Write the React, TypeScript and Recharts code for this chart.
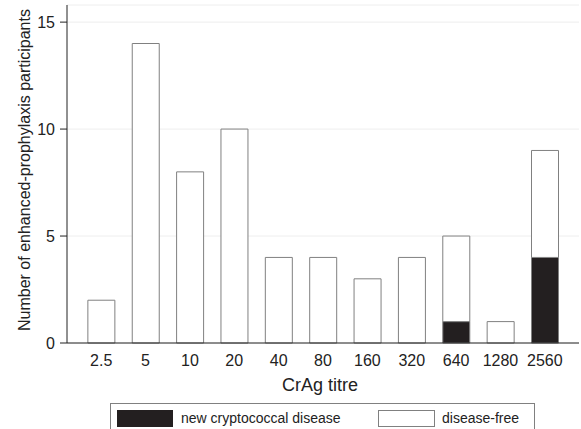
import React from 'react';
import { BarChart, Bar, XAxis, YAxis, CartesianGrid, Legend } from 'recharts';

const categories = ['2.5', '5', '10', '20', '40', '80', '160', '320', '640', '1280', '2560'];
const newDisease = [0, 0, 0, 0, 0, 0, 0, 0, 1, 0, 4];
const diseaseFree = [2, 14, 8, 10, 4, 4, 3, 4, 4, 1, 5];
const yTicks = [0, 5, 10, 15];
const legendOrder = ['disease', 'free'];

const data = categories.map((c, i) => ({ titre: c, disease: newDisease[i], free: diseaseFree[i] }));

const FONT = '"Liberation Sans", Arial, Helvetica, sans-serif';
const TEXT = '#222';
const EDGE = '#808080';

const LegendBox = (props: any) => {
  const payload = props.payload || [];
  const items = legendOrder
    .map((k) => payload.find((p: any) => p.dataKey === k))
    .filter(Boolean);
  const lefts = [6, 267];
  return (
    <div
      style={{
        position: 'relative',
        width: 425,
        height: 30,
        border: `1px solid ${EDGE}`,
        boxSizing: 'border-box',
        fontFamily: FONT,
        fontSize: 14,
        color: TEXT,
        background: '#fff',
      }}
    >
      {items.map((e: any, i: number) => (
        <div key={i} style={{ position: 'absolute', left: lefts[i], top: 6, height: 17, display: 'flex', alignItems: 'center' }}>
          <div
            style={{
              width: i === 0 ? 56 : 57,
              height: 17,
              boxSizing: 'border-box',
              background: e.color,
              border: i === 0 ? 'none' : `1px solid ${EDGE}`,
            }}
          />
          <span style={{ marginLeft: i === 0 ? 8 : 7, lineHeight: '17px', whiteSpace: 'nowrap' }}>{e.value}</span>
        </div>
      ))}
    </div>
  );
};

const YLabel = () => (
  <text
    x={30}
    y={331}
    transform="rotate(-90, 30, 331)"
    textAnchor="start"
    fontSize={16}
    fontFamily={FONT}
    fill={TEXT}
  >
    Number of enhanced-prophylaxis participants
  </text>
);

export default function App() {
  return (
    <div style={{ position: 'absolute', left: 0, top: 0, width: 581, height: 429, overflow: 'hidden', background: '#fff' }}>
      <BarChart
        width={581}
        height={429}
        data={data}
        margin={{ top: 5, right: 2, bottom: 0, left: 0 }}
        barCategoryGap="20%"
        style={{ fontFamily: FONT }}
      >
        <CartesianGrid vertical={false} stroke="#eeeeee" />
        <XAxis
          dataKey="titre"
          height={86}
          padding={{ left: 12, right: 12 }}
          interval={0}
          tickLine={false}
          tickSize={6}
          tickMargin={6}
          axisLine={{ stroke: TEXT }}
          tick={{ fontSize: 16, fill: TEXT, fontFamily: FONT }}
          label={{ value: 'CrAg titre', position: 'insideTop', offset: 35, dx: -3, fontSize: 18, fill: TEXT, fontFamily: FONT }}
        />
        <YAxis
          width={67}
          domain={[0, 15.8]}
          ticks={yTicks}
          tickSize={7}
          tickMargin={5}
          axisLine={{ stroke: TEXT }}
          tickLine={{ stroke: TEXT }}
          tick={{ fontSize: 16, fill: TEXT, fontFamily: FONT }}
          label={<YLabel />}
        />
        <Legend
          layout="horizontal"
          verticalAlign="middle"
          align="center"
          width={425}
          wrapperStyle={{ position: 'absolute', left: 110, top: 403, width: 425 }}
          content={<LegendBox />}
        />
        <Bar dataKey="disease" name="new cryptococcal disease" stackId="a" fill="#231f20" stroke={EDGE} strokeWidth={1} isAnimationActive={false} />
        <Bar dataKey="free" name="disease-free" stackId="a" fill="#ffffff" stroke={EDGE} strokeWidth={1} isAnimationActive={false} />
      </BarChart>
    </div>
  );
}
